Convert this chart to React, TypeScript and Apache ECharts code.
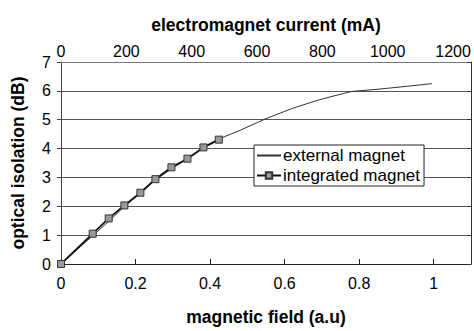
import React, { useEffect, useRef } from "react";
import * as echarts from "echarts";

// magnetic field (a.u) vs optical isolation (dB) — external magnet
const fieldExternal = [0, 0.085, 0.13, 0.172, 0.214, 0.255, 0.3, 0.34, 0.382, 0.425, 0.48, 0.545, 0.62, 0.69, 0.755, 0.78, 0.845, 0.93, 0.995];
const isolationExternal = [0, 0.98, 1.5, 2.02, 2.47, 2.93, 3.33, 3.65, 4.03, 4.34, 4.63, 5.01, 5.39, 5.68, 5.9, 5.98, 6.05, 6.16, 6.25];

// electromagnet current (mA) vs optical isolation (dB) — integrated magnet
const currentIntegrated = [0, 97, 146, 194, 243, 289, 338, 387, 436, 483];
const isolationIntegrated = [0, 1.05, 1.58, 2.03, 2.47, 2.94, 3.35, 3.65, 4.04, 4.31];

const seriesNames = ["external magnet", "integrated magnet"];
const axisTitles = {
  bottom: "magnetic field (a.u)",
  top: "electromagnet current (mA)",
  left: "optical isolation (dB)",
};

const FONT = "'Liberation Sans', Arial, sans-serif";

export default function App() {
  const ref = useRef<HTMLDivElement>(null);
  useEffect(() => {
    if (!ref.current) return;
    const chart = echarts.init(ref.current, null, { renderer: "svg" });
    const ext = fieldExternal.map((x, i) => [x, isolationExternal[i]]);
    const integ = currentIntegrated.map((x, i) => [x, isolationIntegrated[i]]);
    chart.setOption({
      animation: false,
      backgroundColor: "#fff",
      textStyle: { fontFamily: FONT, color: "#000" },
      grid: { left: 61, right: 3, top: 62, bottom: 59, containLabel: false },
      legend: {
        orient: "vertical",
        left: 254,
        top: 145,
        padding: [2, 4, 2, 2],
        itemGap: 3,
        itemWidth: 24,
        itemHeight: 8,
        backgroundColor: "#fff",
        borderColor: "#222",
        borderWidth: 1,
        textStyle: { fontFamily: FONT, fontSize: 17, color: "#000", padding: [0, 0, 0, -3] },
        data: [
          { name: seriesNames[0], itemStyle: { opacity: 0 } },
          { name: seriesNames[1] },
        ],
      },
      xAxis: [
        {
          type: "value",
          position: "bottom",
          min: 0,
          max: 1.1,
          interval: 0.2,
          name: axisTitles.bottom,
          nameLocation: "middle",
          nameGap: 44,
          nameTextStyle: { fontFamily: FONT, fontSize: 17.5, fontWeight: "bold", color: "#000" },
          axisLine: { show: true, onZero: false, lineStyle: { color: "#222", width: 1 } },
          axisTick: { show: true, inside: true, length: 5, lineStyle: { color: "#222" } },
          axisLabel: { fontFamily: FONT, fontSize: 16, color: "#000", margin: 11, showMaxLabel: false },
          splitLine: { show: false },
        },
        {
          type: "value",
          position: "top",
          min: 0,
          max: 1255,
          interval: 200,
          name: axisTitles.top,
          nameLocation: "middle",
          nameGap: 28,
          nameTextStyle: { fontFamily: FONT, fontSize: 17.5, fontWeight: "bold", color: "#000" },
          axisLine: { show: true, onZero: false, lineStyle: { color: "#777", width: 1 } },
          axisTick: { show: false },
          axisLabel: {
            fontFamily: FONT,
            fontSize: 16,
            color: "#000",
            margin: 3,
            showMaxLabel: false,
            formatter: (v: number) => String(v),
          },
          splitLine: { show: false },
        },
      ],
      yAxis: [
        {
          type: "value",
          position: "left",
          min: 0,
          max: 7,
          interval: 1,
          name: axisTitles.left,
          nameLocation: "middle",
          nameRotate: 90,
          nameGap: 34,
          nameTextStyle: { fontFamily: FONT, fontSize: 17.5, fontWeight: "bold", color: "#000" },
          axisLine: { show: true, onZero: false, lineStyle: { color: "#444", width: 1 } },
          axisTick: { show: true, inside: false, length: 4, lineStyle: { color: "#444" } },
          axisLabel: { fontFamily: FONT, fontSize: 16, color: "#000", margin: 10 },
          splitLine: { show: true, lineStyle: { color: "#555", width: 1 } },
        },
        {
          type: "value",
          position: "right",
          min: 0,
          max: 7,
          interval: 1,
          axisLine: { show: true, onZero: false, lineStyle: { color: "#333", width: 1 } },
          axisTick: { show: true, inside: true, length: 4, lineStyle: { color: "#333" } },
          axisLabel: { show: false },
          splitLine: { show: false },
        },
      ],
      series: [
        {
          name: seriesNames[0],
          type: "line",
          xAxisIndex: 0,
          yAxisIndex: 0,
          data: ext,
          symbol: "none",
          lineStyle: { color: "#333", width: 1 },
          itemStyle: { color: "#333" },
          z: 3,
        },
        {
          name: seriesNames[1],
          type: "line",
          xAxisIndex: 1,
          yAxisIndex: 0,
          data: integ,
          symbol: "rect",
          symbolSize: 7,
          lineStyle: { color: "#111", width: 1.8 },
          itemStyle: { color: "#9a9a9a", borderColor: "#333", borderWidth: 1 },
          z: 4,
        },
      ],
    });
    return () => chart.dispose();
  }, []);
  return (
    <div
      ref={ref}
      style={{ position: "absolute", left: 0, top: 0, width: 474, height: 331 }}
    />
  );
}
